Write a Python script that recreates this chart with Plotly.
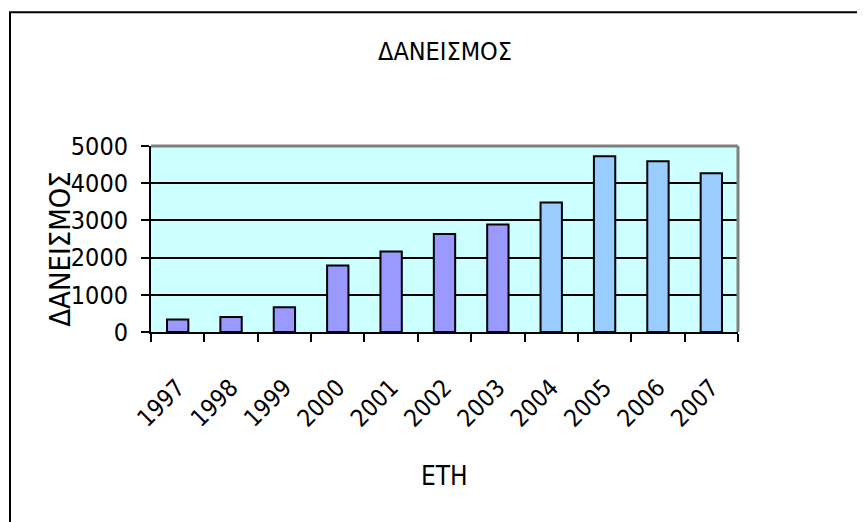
import plotly.graph_objects as go

years = ["1997", "1998", "1999", "2000", "2001", "2002", "2003", "2004", "2005", "2006", "2007"]
loans = [335, 400, 665, 1785, 2165, 2635, 2890, 3480, 4725, 4590, 4270]
y_ticks = [0, 1000, 2000, 3000, 4000, 5000]

title_text = "ΔΑΝΕΙΣΜΟΣ"
x_title = "ΕΤΗ"
y_title = "ΔΑΝΕΙΣΜΟΣ"

W, H = 865, 522
# target plot-area edges in the screenshot
L, R, T, B = 151, 738, 146, 332.5
OFF = 8  # page body offset

FONT = "DejaVu Sans Condensed, sans-serif"

colors = ["#9999FF" if int(y) < 2004 else "#99CCFF" for y in years]


def px_x(x):
    return (x - L) / (R - L)


def px_y(y):
    return (B - y) / (B - T)


fig = go.Figure(go.Bar(
    x=years, y=loans,
    marker=dict(color=colors, line=dict(color="black", width=2)),
    width=0.4,
))

fig.update_layout(
    width=W, height=H,
    margin=dict(l=L - OFF, r=W - (R - OFF), t=T - OFF, b=H - (B - OFF), pad=0, autoexpand=False),
    paper_bgcolor="white",
    plot_bgcolor="#CCFFFF",
    showlegend=False,
    font=dict(family=FONT, color="black", size=24),
    xaxis=dict(
        type="category", tickson="boundaries", ticks="outside", ticklen=8, tickwidth=2,
        tickcolor="black", showline=True, linecolor="black", linewidth=2,
        showgrid=False, tickangle=-45, ticklabelstandoff=30,
        tickfont=dict(size=24, family=FONT),
    ),
    yaxis=dict(
        range=[0, 5000], tickvals=y_ticks, ticks="outside", ticklen=8, tickwidth=2,
        tickcolor="black", showline=True, linecolor="black", linewidth=2,
        showgrid=True, gridcolor="black", gridwidth=2, zeroline=False,
        tickfont=dict(size=25, family=FONT), ticklabelstandoff=8,
    ),
    shapes=[
        dict(type="line", xref="paper", yref="paper", x0=0, x1=1, y0=1, y1=1,
             line=dict(color="#808080", width=3), layer="above"),
        dict(type="line", xref="paper", yref="paper", x0=1, x1=1, y0=0, y1=1,
             line=dict(color="#808080", width=3), layer="above"),
        dict(type="rect", xref="paper", yref="paper",
             x0=px_x(OFF + 2), x1=px_x(W + 30),
             y0=px_y(H + 30), y1=px_y(12),
             line=dict(color="black", width=2), layer="above"),
    ],
    annotations=[
        dict(text=title_text, xref="paper", yref="paper", x=0.5, y=px_y(51),
             xanchor="center", yanchor="middle", showarrow=False, font=dict(size=25, family=FONT)),
        dict(text=x_title, xref="paper", yref="paper", x=0.5, y=px_y(477),
             xanchor="center", yanchor="middle", showarrow=False, font=dict(size=26, family=FONT)),
        dict(text=y_title, xref="paper", yref="paper", x=px_x(60), y=px_y(250),
             xanchor="center", yanchor="middle", showarrow=False, textangle=-90,
             font=dict(size=29, family=FONT)),
    ],
)

fig.write_html("out.html")
